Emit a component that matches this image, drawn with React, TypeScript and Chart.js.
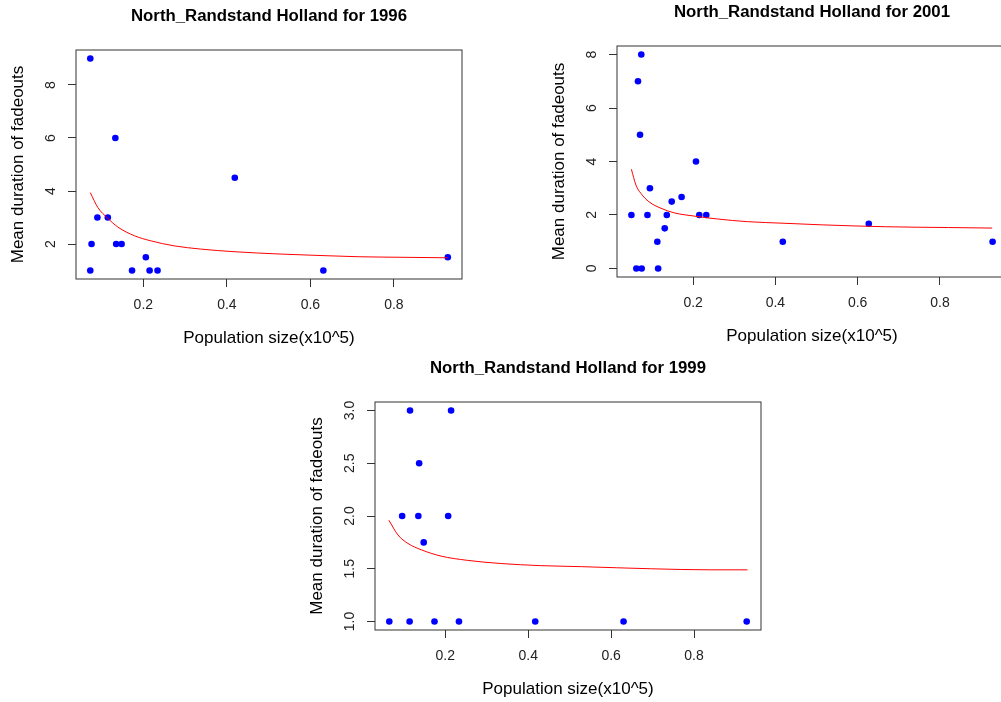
import React, { useEffect, useRef } from 'react';
import { Chart, registerables } from 'chart.js';

Chart.register(...registerables);

// ---------- data ----------
const xTickValues = [0.2, 0.4, 0.6, 0.8];

// 1996
const pop1996 = [0.073, 0.076, 0.073, 0.090, 0.115, 0.133, 0.135, 0.148, 0.173, 0.206, 0.215, 0.234, 0.419, 0.631, 0.929];
const dur1996 = [9, 2, 1, 3, 3, 6, 2, 2, 1, 1.5, 1, 1, 4.5, 1, 1.5];
const fitX1996 = [0.073, 0.091, 0.115, 0.139, 0.179, 0.218, 0.274, 0.337, 0.417, 0.530, 0.635, 0.716, 0.817, 0.929];
const fitY1996 = [3.94, 3.38, 2.97, 2.64, 2.31, 2.12, 1.93, 1.81, 1.71, 1.62, 1.56, 1.52, 1.50, 1.48];
const yTicks1996 = [2, 4, 6, 8];

// 2001
const pop2001 = [0.050, 0.066, 0.074, 0.071, 0.062, 0.075, 0.089, 0.095, 0.113, 0.115, 0.131, 0.136, 0.148, 0.172, 0.207, 0.215, 0.232, 0.418, 0.627, 0.928];
const dur2001 = [2, 7, 8, 5, 0, 0, 2, 3, 1, 0, 1.5, 2, 2.5, 2.67, 4, 2, 2, 1, 1.67, 1];
const fitX2001 = [0.050, 0.061, 0.073, 0.093, 0.122, 0.154, 0.202, 0.259, 0.332, 0.421, 0.514, 0.668, 0.821, 0.927];
const fitY2001 = [3.71, 3.12, 2.81, 2.49, 2.25, 2.08, 1.96, 1.85, 1.75, 1.69, 1.63, 1.56, 1.53, 1.51];
const yTicks2001 = [0, 2, 4, 6, 8];

// 1999
const pop1999 = [0.065, 0.096, 0.114, 0.115, 0.135, 0.137, 0.148, 0.174, 0.207, 0.214, 0.233, 0.417, 0.630, 0.927];
const dur1999 = [1, 2, 1, 3, 2, 2.5, 1.75, 1, 2, 3, 1, 1, 1, 1];
const fitX1999 = [0.064, 0.086, 0.110, 0.142, 0.190, 0.253, 0.334, 0.429, 0.529, 0.697, 0.841, 0.929];
const fitY1999 = [1.96, 1.82, 1.74, 1.68, 1.62, 1.58, 1.55, 1.53, 1.52, 1.50, 1.49, 1.49];
const yTicks1999 = [1.0, 1.5, 2.0, 2.5, 3.0];

const titlePrefix = 'North_Randstand Holland for ';
const xLabel = 'Population size(x10^5)';
const yLabel = 'Mean duration of fadeouts';

// ---------- layout ----------
const FONT = '"Liberation Sans", Arial, Helvetica, sans-serif';
const Y_AXIS_W = 76;
const TITLE_H = 46;
const X_AXIS_H = 80;
const RIGHT_PAD = 2;

type PanelProps = {
  boxLeft: number; boxTop: number; boxRight: number; boxBottom: number;
  year: string;
  xs: number[]; ys: number[]; fx: number[]; fy: number[];
  xMin: number; xMax: number; yMin: number; yMax: number;
  yTicks: number[]; yDecimals: number; yTickPad: number;
};

const boxPlugin = {
  id: 'rbox',
  afterDatasetsDraw(chart: any) {
    const { ctx, chartArea: a } = chart;
    ctx.save();
    ctx.strokeStyle = '#333';
    ctx.lineWidth = 1;
    ctx.strokeRect(a.left, a.top, a.right - a.left, a.bottom - a.top);
    ctx.restore();
  },
};

function Panel(p: PanelProps) {
  const ref = useRef<HTMLCanvasElement | null>(null);
  const left = p.boxLeft - Y_AXIS_W;
  const top = p.boxTop - TITLE_H;
  const width = Math.round(p.boxRight - left + RIGHT_PAD);
  const height = Math.round(p.boxBottom - top + X_AXIS_H);

  useEffect(() => {
    if (!ref.current) return;
    const chart = new Chart(ref.current, {
      type: 'scatter',
      data: {
        datasets: [
          {
            data: p.fx.map((x, i) => ({ x, y: p.fy[i] })),
            showLine: true,
            borderColor: '#ff0000',
            borderWidth: 1,
            pointRadius: 0,
            cubicInterpolationMode: 'monotone',
            fill: false,
          } as any,
          {
            data: p.xs.map((x, i) => ({ x, y: p.ys[i] })),
            backgroundColor: '#0000ff',
            borderColor: '#0000ff',
            borderWidth: 0,
            pointRadius: 3.3,
            showLine: false,
          },
        ],
      },
      options: {
        responsive: false,
        animation: false,
        devicePixelRatio: 1,
        layout: { padding: { left: 0, top: 0, right: RIGHT_PAD, bottom: 0 } },
        plugins: {
          legend: { display: false },
          tooltip: { enabled: false },
          title: {
            display: true,
            text: titlePrefix + p.year,
            fullSize: false,
            color: '#000',
            font: { family: FONT, size: 16.8, weight: 'bold', lineHeight: 1.2 },
            padding: { top: 2.6, bottom: TITLE_H - 20.16 - 2.6 },
          },
        },
        scales: {
          x: {
            type: 'linear',
            position: 'bottom',
            min: p.xMin,
            max: p.xMax,
            afterBuildTicks: (s: any) => { s.ticks = xTickValues.map((v) => ({ value: v })); },
            afterFit: (s: any) => { s.height = X_AXIS_H; },
            grid: { display: true, drawOnChartArea: false, drawTicks: true, tickLength: 8, color: '#333' },
            border: { display: false },
            ticks: {
              maxRotation: 0, minRotation: 0, padding: 9.3, color: '#222',
              font: { family: FONT, size: 14 },
              callback: (v: any) => Number(v).toFixed(1),
            },
            title: {
              display: true, text: xLabel, color: '#000',
              font: { family: FONT, size: 17, lineHeight: 1.2 },
              padding: { top: 0, bottom: 10.8 },
            },
          },
          y: {
            type: 'linear',
            position: 'left',
            min: p.yMin,
            max: p.yMax,
            afterBuildTicks: (s: any) => { s.ticks = p.yTicks.map((v) => ({ value: v })); },
            afterFit: (s: any) => { s.width = Y_AXIS_W; },
            grid: { display: true, drawOnChartArea: false, drawTicks: true, tickLength: 8, color: '#333' },
            border: { display: false },
            ticks: {
              minRotation: 90, maxRotation: 90, crossAlign: 'center', padding: p.yTickPad, color: '#222',
              font: { family: FONT, size: 14 },
              callback: (v: any) => Number(v).toFixed(p.yDecimals),
            },
            title: {
              display: true, text: yLabel, color: '#000',
              font: { family: FONT, size: 17, lineHeight: 1.2 },
              padding: { top: 7.8, bottom: 0 },
            },
          },
        },
      } as any,
      plugins: [boxPlugin],
    });
    return () => chart.destroy();
  }, []);

  return (
    <canvas
      ref={ref}
      width={width}
      height={height}
      style={{ position: 'absolute', left, top, width, height }}
    />
  );
}

export default function App() {
  return (
    <div style={{ position: 'absolute', left: 0, top: 0, width: 1001, height: 702, overflow: 'hidden', background: '#fff' }}>
      <Panel boxLeft={76} boxTop={50} boxRight={464} boxBottom={279} year="1996"
        xs={pop1996} ys={dur1996} fx={fitX1996} fy={fitY1996}
        xMin={0.0388} xMax={0.963} yMin={0.68} yMax={9.32}
        yTicks={yTicks1996} yDecimals={0} yTickPad={12.6} />
      <Panel boxLeft={617} boxTop={46} boxRight={1009} boxBottom={277} year="2001"
        xs={pop2001} ys={dur2001} fx={fitX2001} fy={fitY2001}
        xMin={0.015} xMax={0.963} yMin={-0.32} yMax={8.32}
        yTicks={yTicks2001} yDecimals={0} yTickPad={12.6} />
      <Panel boxLeft={375} boxTop={402} boxRight={763} boxBottom={630} year="1999"
        xs={pop1999} ys={dur1999} fx={fitX1999} fy={fitY1999}
        xMin={0.0305} xMax={0.9615} yMin={0.92} yMax={3.08}
        yTicks={yTicks1999} yDecimals={1} yTickPad={6.8} />
    </div>
  );
}
